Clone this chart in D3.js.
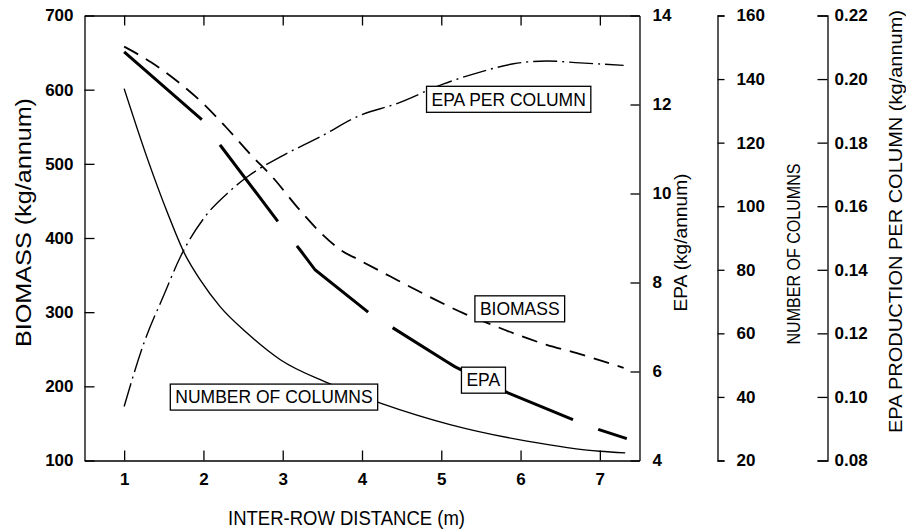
<!DOCTYPE html>
<html><head><meta charset="utf-8">
<script src="https://cdn.jsdelivr.net/npm/d3@7"></script>
<style>
body{margin:0;background:#fff}
svg{display:block}
text{font-family:"Liberation Sans",Arial,Helvetica,sans-serif;fill:#000}
</style>
</head><body>
<svg id="chart" width="906" height="530"></svg>
<script>
// ---------- data ----------
const xTicks = [1, 2, 3, 4, 5, 6, 7];
const biomassTicks = [100, 200, 300, 400, 500, 600, 700];
const epaTicks = [4, 6, 8, 10, 12, 14];
const columnTicks = [20, 40, 60, 80, 100, 120, 140, 160];
const epcTicks = [0.08, 0.10, 0.12, 0.14, 0.16, 0.18, 0.20, 0.22];

const biomassX = [1, 1.34, 1.65, 1.98, 2.28, 2.6, 2.88, 3.18, 3.47, 3.73, 3.97, 4.36, 4.81, 5.27, 5.57, 5.9, 6.33, 6.7, 7.3];
const biomass  = [658, 637, 613, 583, 550, 512, 481, 442, 408, 384, 370, 348, 323, 299, 286, 272, 256, 245, 225];

const epaX = [1, 1.98, 2.21, 2.94, 3.22, 3.41, 4.08, 4.39, 5.07, 5.17, 5.84, 6.66, 6.98, 7.34];
const epa  = [13.18, 11.66, 11.09, 9.37, 8.73, 8.28, 7.33, 6.98, 6.22, 6.11, 5.52, 4.92, 4.70, 4.49];

const columnsX = [1, 1.3, 1.55, 1.76, 1.96, 2.21, 2.55, 2.97, 3.56, 4.25, 5.11, 6.08, 7.0, 7.32];
const columns  = [137, 114.5, 97.7, 85.2, 76.8, 68.4, 60.1, 51.7, 44.5, 37.9, 31.3, 26.1, 22.9, 22.4];

const epcX = [1, 1.25, 1.5, 1.71, 2.02, 2.3, 2.55, 2.97, 3.47, 3.98, 4.44, 5.03, 5.49, 5.91, 6.33, 6.75, 7.3];
const epc  = [0.097, 0.117, 0.132, 0.1441, 0.1567, 0.164, 0.1692, 0.1755, 0.1818, 0.1886, 0.1923, 0.1985, 0.2022, 0.2048, 0.2057, 0.2051, 0.2043];

// label annotations (x in m, y in biomass units)
const labelText = ["EPA PER COLUMN", "BIOMASS", "EPA", "NUMBER OF COLUMNS"];
const labelX = [5.85, 5.99, 5.53, 2.89];
const labelY = [587, 304.5, 208.3, 185.5];

// ---------- chart ----------
const svg = d3.select("#chart");
const x  = d3.scaleLinear([0.5, 7.5], [84.5, 639.5]);
const yB = d3.scaleLinear([100, 700], [460.5, 15.5]);
const yE = d3.scaleLinear([4, 14], [460.5, 15.5]);
const yC = d3.scaleLinear([20, 160], [460.5, 15.5]);
const yP = d3.scaleLinear([0.08, 0.22], [460.5, 15.5]);

const tickFont = g => g.selectAll("text").attr("font-size", 17).attr("font-weight", "bold")
  .attr("font-family", '"Liberation Sans",Arial,sans-serif').attr("fill", "#000");
const lineStyle = g => { g.selectAll("path,line").attr("stroke", "#000").attr("stroke-width", 1.3); g.attr("font-family", null); };

svg.append("g").attr("transform", "translate(0,460.5)")
  .call(d3.axisBottom(x).tickValues(xTicks).tickFormat(d3.format("d")).tickSizeInner(-10).tickSizeOuter(0).tickPadding(12))
  .call(tickFont).call(lineStyle);
svg.append("g").attr("transform", "translate(0,15.5)")
  .call(d3.axisTop(x).tickValues(xTicks).tickSizeInner(-10).tickSizeOuter(0).tickFormat(""))
  .call(lineStyle);
svg.append("g").attr("transform", "translate(84.5,0)")
  .call(d3.axisLeft(yB).tickValues(biomassTicks).tickSizeInner(-10).tickSizeOuter(0).tickPadding(11))
  .call(tickFont).call(lineStyle);
svg.append("g").attr("transform", "translate(639.5,0)")
  .call(d3.axisRight(yE).tickValues(epaTicks).tickSizeInner(-9).tickSizeOuter(0).tickPadding(13))
  .call(tickFont).call(lineStyle);
svg.append("g").attr("transform", "translate(717.5,0)")
  .call(d3.axisRight(yC).tickValues(columnTicks).tickSizeInner(7).tickSizeOuter(7).tickPadding(12))
  .call(tickFont).call(lineStyle);
svg.append("g").attr("transform", "translate(827.5,0)")
  .call(d3.axisRight(yP).tickValues(epcTicks).tickSizeInner(-10).tickSizeOuter(-10).tickPadding(7).tickFormat(d3.format(".2f")))
  .call(tickFont).call(lineStyle);

// ---------- lines ----------
function draw(xs, ys, yScale, curve, width, dash) {
  const pts = xs.map((v, i) => [v, ys[i]]);
  svg.append("path").datum(pts)
    .attr("d", d3.line().x(d => x(d[0])).y(d => yScale(d[1])).curve(curve))
    .attr("fill", "none").attr("stroke", "#000").attr("stroke-width", width)
    .attr("stroke-dasharray", dash);
}
draw(columnsX, columns, yC, d3.curveMonotoneX, 1.4, null);
draw(epcX, epc, yP, d3.curveMonotoneX, 1.4, "24 5 2 5");
draw(biomassX, biomass, yB, d3.curveMonotoneX, 1.8, "16 9");
draw(epaX, epa, yE, d3.curveLinear, 3, "103 31 96 31 98 29 98 28 77 27 40");

// ---------- boxed labels ----------
labelText.forEach((t, i) => {
  const g = svg.append("g");
  const cx = x(labelX[i]), cy = yB(labelY[i]);
  const txt = g.append("text").attr("x", cx).attr("y", cy).attr("dy", "0.36em")
    .attr("text-anchor", "middle").attr("font-size", 17.5).text(t);
  const bb = txt.node().getBBox();
  g.insert("rect", "text").attr("x", bb.x - 5).attr("y", cy - 13).attr("width", bb.width + 10).attr("height", 26)
    .attr("fill", "#fff").attr("stroke", "#000").attr("stroke-width", 1.3);
});

// ---------- titles ----------
svg.append("text").attr("x", 346.5).attr("y", 525).attr("text-anchor", "middle")
  .attr("font-size", 20).attr("textLength", 237).attr("lengthAdjust", "spacingAndGlyphs")
  .text("INTER-ROW DISTANCE (m)");
function vTitle(t, bx, cy, size, len) {
  svg.append("text").attr("transform", `translate(${bx},${cy}) rotate(-90)`)
    .attr("text-anchor", "middle").attr("font-size", size)
    .attr("textLength", len).attr("lengthAdjust", "spacingAndGlyphs").text(t);
}
vTitle("BIOMASS (kg/annum)", 31, 222.5, 22, 249);
vTitle("EPA (kg/annum)", 687, 242.5, 18, 138);
vTitle("NUMBER OF COLUMNS", 800, 254, 18, 181);
vTitle("EPA PRODUCTION PER COLUMN (kg/annum)", 902, 221.5, 18, 423);
</script>
</body></html>
